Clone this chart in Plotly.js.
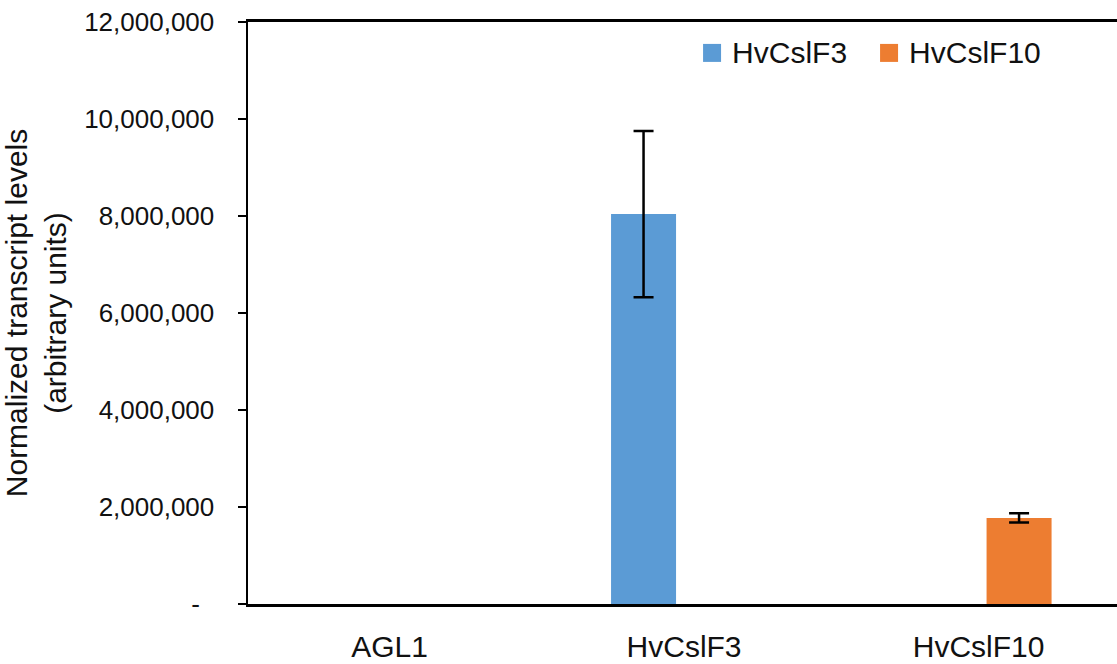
<!DOCTYPE html>
<html>
<head>
<meta charset="utf-8">
<script src="https://cdn.plot.ly/plotly-3.0.1.min.js"></script>
<style>
  html, body { margin: 0; padding: 0; background: #fff; overflow: hidden; }
  #chart { width: 1117px; height: 664px; }
</style>
</head>
<body>
<div id="chart"></div>
<script>
// Samples on the x axis
const categories = ["AGL1", "HvCslF3", "HvCslF10"];

// Normalized transcript levels (arbitrary units) and their error bars;
// null where a gene has no bar for that sample
const seriesNames = ["HvCslF3", "HvCslF10"];
const hvCslF3Values = [null, 8040000, null];
const hvCslF3Errors = [null, 1715000, null];
const hvCslF10Values = [null, null, 1775000];
const hvCslF10Errors = [null, null, 95000];

// Y axis ticks
const yTickVals = [0, 2000000, 4000000, 6000000, 8000000, 10000000, 12000000];
const yTickText = ["-\u00a0\u00a0", "2,000,000", "4,000,000", "6,000,000", "8,000,000", "10,000,000", "12,000,000"];

const FONT = "Arial, 'Liberation Sans', sans-serif";
const BLUE = "#5B9BD5";
const ORANGE = "#ED7D31";

function barTrace(name, values, errors, color) {
  return {
    type: "bar",
    name: name,
    x: categories,
    y: values,
    marker: { color: color, line: { width: 0 } },
    error_y: {
      type: "data",
      array: errors,
      visible: true,
      color: "#000",
      thickness: 2.5,
      width: 10
    },
    hoverinfo: "x+y+name"
  };
}

const data = [
  barTrace(seriesNames[0], hvCslF3Values, hvCslF3Errors, BLUE),
  barTrace(seriesNames[1], hvCslF10Values, hvCslF10Errors, ORANGE)
];

const layout = {
  width: 1117,
  height: 664,
  margin: { l: 248, r: 0, t: 22, b: 60, pad: 0 },
  paper_bgcolor: "#fff",
  plot_bgcolor: "#fff",
  font: { family: FONT, color: "#111" },
  barmode: "group",
  bargap: 0.45,
  bargroupgap: 0.1975,
  showlegend: true,
  legend: {
    orientation: "h",
    x: 0.511,
    xanchor: "left",
    y: 0.995,
    yanchor: "top",
    entrywidth: 132,
    font: { family: FONT, size: 30, color: "#111" },
    bgcolor: "rgba(0,0,0,0)",
    traceorder: "normal"
  },
  xaxis: {
    type: "category",
    range: [-0.4805, 2.470],
    showgrid: false,
    zeroline: false,
    showline: true,
    linecolor: "#000",
    linewidth: 3,
    mirror: true,
    ticks: "",
    ticklabelstandoff: 14,
    tickfont: { family: FONT, size: 30, color: "#111" },
    fixedrange: true
  },
  yaxis: {
    range: [0, 12000000],
    tickmode: "array",
    tickvals: yTickVals,
    ticktext: yTickText,
    showgrid: false,
    zeroline: false,
    showline: true,
    linecolor: "#000",
    linewidth: 2.5,
    ticks: "outside",
    ticklen: 8,
    tickwidth: 2.5,
    tickcolor: "#000",
    ticklabelstandoff: 18,
    tickfont: { family: FONT, size: 26, color: "#111" },
    title: {
      text: "Normalized transcript levels<br>(arbitrary units)",
      font: { family: FONT, size: 30, color: "#111" },
      standoff: 10
    },
    automargin: false,
    fixedrange: true
  }
};

Plotly.newPlot("chart", data, layout, { displayModeBar: false, staticPlot: true }).then(function (gd) {
  // larger square swatches in the legend
  gd.querySelectorAll(".legend .legendpoints path").forEach(function (p) {
    p.setAttribute("d", "M9,11H-9V-7H9Z");
  });
});
</script>
</body>
</html>
